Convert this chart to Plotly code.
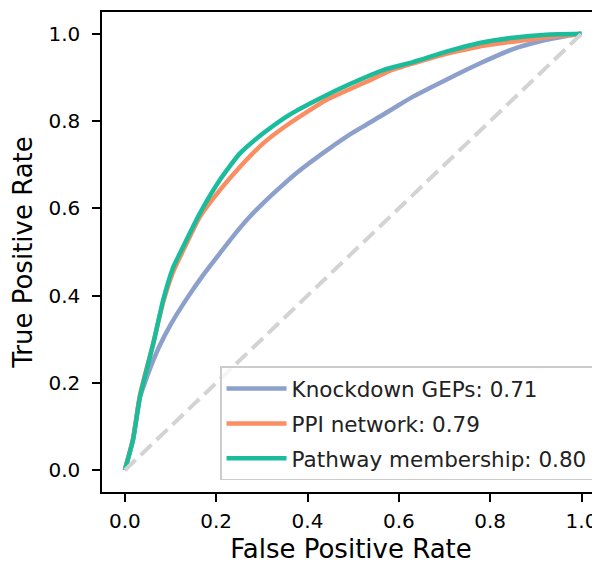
import plotly.graph_objects as go

# ---- data ----
kd_fpr = [0.0, 0.018, 0.033, 0.05, 0.062, 0.077, 0.10, 0.135, 0.175, 0.208, 0.24, 0.27, 0.303, 0.34, 0.376, 0.449, 0.50, 0.558, 0.602, 0.631, 0.704, 0.777, 0.85, 0.909, 0.967, 1.0]
kd_tpr = [0.0, 0.07, 0.167, 0.218, 0.251, 0.287, 0.333, 0.392, 0.452, 0.497, 0.54, 0.577, 0.612, 0.648, 0.681, 0.738, 0.774, 0.81, 0.838, 0.856, 0.895, 0.932, 0.965, 0.983, 0.995, 1.0]

ppi_fpr = [0.0, 0.018, 0.033, 0.062, 0.084, 0.106, 0.124, 0.164, 0.208, 0.252, 0.303, 0.361, 0.442, 0.529, 0.58, 0.65, 0.704, 0.777, 0.85, 0.923, 1.0]
ppi_tpr = [0.0, 0.072, 0.172, 0.29, 0.385, 0.455, 0.495, 0.58, 0.642, 0.695, 0.749, 0.795, 0.849, 0.89, 0.915, 0.938, 0.954, 0.971, 0.982, 0.992, 1.0]

pw_fpr = [0.0, 0.018, 0.033, 0.062, 0.084, 0.106, 0.124, 0.164, 0.208, 0.252, 0.303, 0.361, 0.427, 0.493, 0.566, 0.631, 0.704, 0.777, 0.85, 0.923, 1.0]
pw_tpr = [0.0, 0.07, 0.167, 0.289, 0.39, 0.465, 0.504, 0.588, 0.665, 0.726, 0.772, 0.815, 0.852, 0.885, 0.917, 0.935, 0.959, 0.979, 0.991, 0.998, 1.0]

diag = [0.0, 1.0]

labels = ["Knockdown GEPs: 0.71", "PPI network: 0.79", "Pathway membership: 0.80"]
colors = ["#8da0cb", "#fc8d62", "#1abc9c"]
tick_vals = [0.0, 0.2, 0.4, 0.6, 0.8, 1.0]
tick_text = ["0.0", "0.2", "0.4", "0.6", "0.8", "1.0"]

FONT = "DejaVu Sans"

fig = go.Figure()
series = [(kd_fpr, kd_tpr), (ppi_fpr, ppi_tpr), (pw_fpr, pw_tpr)]
for i, ((x, y), lab, col) in enumerate(zip(series, labels, colors)):
    fig.add_trace(go.Scatter(x=x, y=y, mode="lines", name=lab,
                             legendgroup=f"g{i}",
                             line=dict(color=col, width=4.5, shape="spline", smoothing=0.5)))
fig.add_trace(go.Scatter(x=diag, y=diag, mode="lines", showlegend=False,
                         line=dict(color="#d3d3d3", width=4, dash="15px,7px")))

fig.update_layout(
    width=592, height=556,
    margin=dict(l=94, r=0, t=4, b=72),
    paper_bgcolor="white", plot_bgcolor="white",
    font=dict(family=FONT, size=20, color="black"),
    legend=dict(x=0.986, y=0.024, xanchor="right", yanchor="bottom",
                bgcolor="rgba(255,255,255,0.8)", bordercolor="#cccccc", borderwidth=1.5,
                font=dict(family=FONT, size=21.5, color="#222222"),
                tracegroupgap=4, itemwidth=60),
    xaxis=dict(range=[-0.05, 1.0405], tickvals=tick_vals, ticktext=tick_text,
               automargin=False, ticklabelstandoff=2,
               showgrid=False, zeroline=False, showline=True, mirror=True,
               linecolor="black", linewidth=1.5, ticks="outside", ticklen=8,
               tickwidth=1.5, tickcolor="black",
               title=dict(text="False Positive Rate", font=dict(size=26, family=FONT), standoff=14)),
    yaxis=dict(range=[-0.05, 1.05], tickvals=tick_vals, ticktext=tick_text,
               automargin=False, ticklabelstandoff=8,
               showgrid=False, zeroline=False, showline=True, mirror=False,
               linecolor="black", linewidth=1.5, ticks="outside", ticklen=8,
               tickwidth=1.5, tickcolor="black",
               title=dict(text="True Positive Rate", font=dict(size=26, family=FONT), standoff=14)),
)

fig.write_html("out.html")
